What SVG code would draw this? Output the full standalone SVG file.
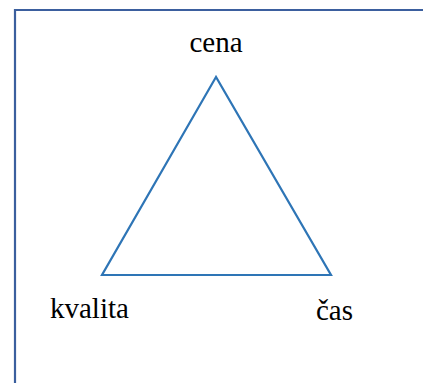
<svg xmlns="http://www.w3.org/2000/svg" width="423" height="383" viewBox="0 0 423 383">
<rect width="423" height="383" fill="#fff"/>
<g id="frame"><path d="M15,390 V10 H430" fill="none" stroke="#3B5F9E" stroke-width="2.2"/></g>
<g id="connectors"><polygon points="216,77 102,275 331,275" fill="none" stroke="#2E75B6" stroke-width="2.2"/></g>
<g id="cena"><text x="216" y="52" text-anchor="middle" font-family="Liberation Serif" font-size="29" style="font-family:'Liberation Serif',serif">cena</text></g>
<g id="kvalita"><text x="50" y="318" font-family="Liberation Serif" font-size="29" style="font-family:'Liberation Serif',serif">kvalita</text></g>
<g id="cas"><text x="316" y="320" font-family="Liberation Serif" font-size="29" style="font-family:'Liberation Serif',serif">&#269;as</text></g>
</svg>
